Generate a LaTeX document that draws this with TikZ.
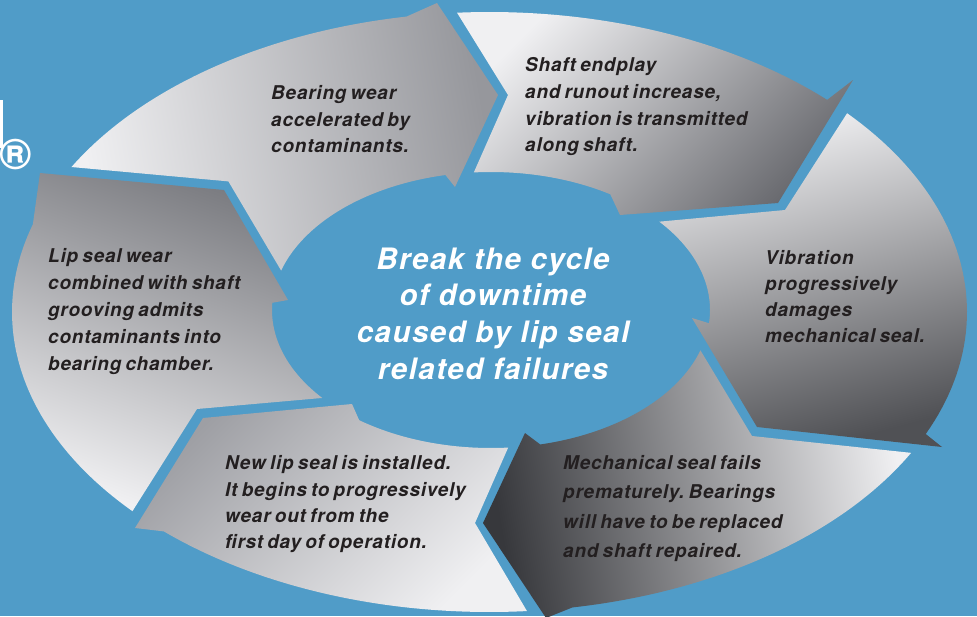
\documentclass[tikz,border=0pt]{standalone}
\usepackage{fontspec}
\setmainfont{TeX Gyre Heros}
\newfontfamily\bodyfont[LetterSpace=4,WordSpace=0.7]{TeX Gyre Heros}
\newfontfamily\ctrfont[LetterSpace=5]{TeX Gyre Heros}
\usetikzlibrary{shapes.geometric}
\frenchspacing
\definecolor{bg}{RGB}{80,156,200}
\definecolor{ink}{RGB}{35,31,32}
\definecolor{lite}{RGB}{240,240,242}
\definecolor{dkA}{RGB}{150,151,156}
\definecolor{dkB}{RGB}{105,106,111}
\definecolor{dkC}{RGB}{80,81,85}
\definecolor{dkD}{RGB}{55,56,60}
\definecolor{dkE}{RGB}{158,159,164}
\definecolor{dkF}{RGB}{122,123,128}
\tikzset{
  oarc/.style 2 args={insert path={plot[domain=#1:#2,samples=50,variable=\t]({489.5+477.5*cos(\t)},{312-300*sin(\t)})}},
  iarc/.style 2 args={insert path={-- plot[domain=#1:#2,samples=50,variable=\t]({491+219*cos(\t)},{310-138*sin(\t)})}},
  body/.style={font=\bodyfont\bfseries\itshape\fontsize{19}{#1}\selectfont, text=ink, align=left, anchor=north west, inner sep=0pt},
  ctr/.style={font=\ctrfont\bfseries\itshape\fontsize{29.5}{36.7}\selectfont, text=white, align=center, anchor=north, inner sep=0pt}
}
\begin{document}
\begin{tikzpicture}[x=1pt,y=-1pt]
\useasboundingbox (0,0) rectangle (977,616);
\clip (0,0) rectangle (977,616);
\fill[bg] (0,0) rectangle (977,616);
% logo fragment
\fill[white] (0,100) rectangle (2.6,148);
\node[text=white, inner sep=0pt, font=\fontsize{44}{44}\selectfont\bfseries] (reg) at (16,155) {®};
% ring segments
\shade[top color=lite, bottom color=dkA, shading angle=100]
  [oarc={151.1}{100}] -- (437,3) -- (498,95) -- (455,187) [iarc={102}{163.4}] -- (228.4,181.4) -- cycle;
\shade[top color=lite, bottom color=dkB, shading angle=45]
  [oarc={93.9}{45}] -- (853,80) -- (778,203) -- (620,215) [iarc={57}{94.5}] -- (508,95) -- cycle;
\shade[top color=lite, bottom color=dkC, shading angle=15]
  [oarc={41.5}{-24}] -- (942,447) -- (757,427) -- (692,318) [iarc={-5.5}{39.8}] -- (785,210) -- cycle;
\shade[top color=lite, bottom color=dkD, shading angle=-80]
  [oarc={-28}{-80}] -- (546,618) -- (483,523) -- (525,433) [iarc={-77}{-17}] -- (752,436) -- cycle;
\shade[top color=lite, bottom color=dkE, shading angle=-135]
  [oarc={274.5}{227}] -- (135,528) -- (203,418) -- (352,404) [iarc={233}{274.5}] -- (475,523) -- cycle;
\shade[top color=dkF, bottom color=lite, shading angle=-20]
  [oarc={221.6}{163}] -- (40,173) -- (224,190) -- (288,300) [iarc={177}{219.6}] -- (197,409) -- cycle;
% texts
\node[body=26.75] (t1) at (271,85) {Bearing wear\\accelerated by\\contaminants.};
\node[body=26.7] (t2) at (525,57.5) {Shaft endplay\\and runout increase,\\vibration is transmitted\\along shaft.};
\node[body=25.9] (t3) at (765,250.5) {Vibration\\progressively\\damages\\mechanical seal.};
\node[body=29.4] (t4) at (563,455) {Mechanical seal fails\\prematurely. Bearings\\will have to be replaced\\and shaft repaired.};
\node[body=26.3] (t5) at (225,455.5) {New lip seal is installed.\\It begins to progressively\\wear out from the\\first day of operation.};
\node[body=26.9] (t6) at (48,248.3) {Lip seal wear\\combined with shaft\\grooving admits\\contaminants into\\bearing chamber.};
\node[ctr] (hub) at (493,247.3) {Break the cycle\\of downtime\\caused by lip seal\\related failures};
\end{tikzpicture}
\end{document}
